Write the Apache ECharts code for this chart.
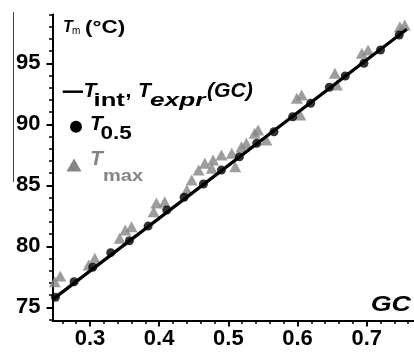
<!DOCTYPE html>
<html>
<head>
<meta charset="utf-8">
<script src="https://cdn.jsdelivr.net/npm/echarts@6/dist/echarts.min.js"></script>
<style>
html,body{margin:0;padding:0;background:#fff;}
#chart{width:414px;height:355px;}
</style>
</head>
<body>
<div id="chart"></div>
<script>
// ---- data ----
const gcHalf = [0.250,0.277,0.304,0.330,0.357,0.384,0.411,0.436,0.464,0.490,0.516,0.541,0.566,0.593,0.619,0.646,0.669,0.696,0.720,0.747];
const tHalf  = [75.82,77.10,78.28,79.48,80.46,81.66,82.98,84.02,85.11,86.25,87.34,88.44,89.39,90.62,91.72,93.04,93.96,95.00,96.09,97.32];

const gcMax = [0.249,0.257,0.298,0.307,0.343,0.351,0.360,0.392,0.396,0.408,0.440,0.447,0.457,0.466,0.476,0.478,0.490,0.505,0.510,0.519,0.526,0.538,0.543,0.555,0.599,0.606,0.604,0.654,0.657,0.693,0.702,0.748,0.755];
const tMax  = [77.10,77.57,78.47,79.02,80.66,81.34,81.61,82.84,83.55,83.66,84.61,85.43,86.25,86.80,86.39,87.07,87.48,87.62,86.52,88.16,88.44,89.26,89.53,88.71,92.13,92.40,90.76,94.18,93.22,95.82,96.09,98.00,98.14];

const gcFit = [0.2458, 0.758];
const tFit  = [75.63, 97.79];

const xMajor = [0.3,0.4,0.5,0.6,0.7];
const xMinor = [0.26,0.28,0.32,0.34,0.36,0.38,0.42,0.44,0.46,0.48,0.52,0.54,0.56,0.58,0.62,0.64,0.66,0.68,0.72,0.74,0.76];
const yMajor = [75,80,85,90,95];
const yMinor = [74,76,77,78,79,81,82,83,84,86,87,88,89,91,92,93,94,96,97,98,99];

// ---- chart ----
const FONT = '"Liberation Sans", Arial, Helvetica, sans-serif';
const BLACK = '#000';
const GRAY = '#858585';
const xMin = 0.2458, xMax = 0.7684, yMin = 73.92, yMax = 99;

function zip(a, b) { return a.map((v, i) => [v, b[i]]); }

const chart = echarts.init(document.getElementById('chart'), null, {renderer: 'canvas'});

function txt(x, y, text, size, opts) {
  opts = opts || {};
  return {
    type: 'text', z: 100,
    scaleX: opts.sx || 1, x: x, y: y,
    style: {
      x: 0, y: 0, text: text,
      font: (opts.italic ? 'italic ' : '') + (opts.weight || 'bold') + ' ' + size + 'px ' + FONT,
      fill: opts.color || BLACK,
      align: opts.align || 'left',
      verticalAlign: 'middle'
    }
  };
}

const option = {
  animation: false,
  backgroundColor: '#fff',
  grid: {left: 52.5, right: 0, top: 14.5, bottom: 34.5, containLabel: false},
  xAxis: [{
    type: 'value', min: xMin, max: xMax, position: 'bottom',
    axisLine: {show: true, onZero: false, lineStyle: {color: BLACK, width: 2}},
    axisTick: {show: true, customValues: xMajor, length: 6, inside: false, lineStyle: {color: BLACK, width: 2}},
    axisLabel: {customValues: xMajor, formatter: v => v.toFixed(1), fontFamily: FONT, fontWeight: 'bold', fontSize: 22, color: BLACK, margin: 7},
    splitLine: {show: false}
  }, {
    type: 'value', min: xMin, max: xMax, position: 'bottom',
    axisLine: {show: false},
    axisTick: {show: true, customValues: xMinor, length: 3.5, inside: false, lineStyle: {color: BLACK, width: 1.5}},
    axisLabel: {show: false},
    splitLine: {show: false}
  }],
  yAxis: [{
    type: 'value', min: yMin, max: yMax, position: 'left',
    axisLine: {show: true, onZero: false, lineStyle: {color: BLACK, width: 2}},
    axisTick: {show: true, customValues: yMajor, length: 6, inside: false, lineStyle: {color: BLACK, width: 2}},
    axisLabel: {customValues: yMajor, fontFamily: FONT, fontWeight: 'bold', fontSize: 22, color: BLACK, margin: 12},
    splitLine: {show: false}
  }, {
    type: 'value', min: yMin, max: yMax, position: 'left',
    axisLine: {show: false},
    axisTick: {show: true, customValues: yMinor, length: 3.5, inside: false, lineStyle: {color: BLACK, width: 1.5}},
    axisLabel: {show: false},
    splitLine: {show: false}
  }],
  series: [{
    name: 'Tmax', type: 'scatter', xAxisIndex: 0, yAxisIndex: 0, z: 2,
    symbol: 'triangle', symbolSize: [12, 11],
    itemStyle: {color: GRAY},
    data: zip(gcMax, tMax)
  }, {
    name: 'Tint', type: 'line', xAxisIndex: 0, yAxisIndex: 0, z: 3,
    symbol: 'none', lineStyle: {color: BLACK, width: 3.2},
    data: zip(gcFit, tFit)
  }, {
    name: 'T0.5', type: 'scatter', xAxisIndex: 0, yAxisIndex: 0, z: 4,
    symbol: 'circle', symbolSize: 9,
    itemStyle: {color: BLACK},
    data: zip(gcHalf, tHalf)
  }],
  graphic: [
    // stray panel border at far left
    {type: 'line', z: 100, shape: {x1: 13.5, y1: 12, x2: 13.5, y2: 182}, style: {stroke: '#444', lineWidth: 1}},
    // axis title
    txt(63, 27.5, 'T', 16, {italic: true}),
    txt(72, 31, 'm', 10, {weight: 'normal'}),
    txt(85, 28, '(°C)', 18, {sx: 1.25}),
    // legend line 1
    {type: 'line', z: 100, shape: {x1: 62.7, y1: 91.7, x2: 83, y2: 91.7}, style: {stroke: BLACK, lineWidth: 2.5}},
    txt(83.5, 90.8, 'T', 21, {italic: true}),
    txt(93.5, 100.5, 'int', 19, {sx: 1.35}),
    txt(125.5, 90.8, ',', 21),
    txt(138, 90.8, 'T', 21, {italic: true}),
    txt(150, 100.5, 'expr', 19, {italic: true, sx: 1.38}),
    txt(207, 91.5, '(GC)', 20, {italic: true, sx: 1.06}),
    // legend line 2
    {type: 'circle', z: 100, shape: {cx: 76, cy: 126.7, r: 6}, style: {fill: BLACK}},
    txt(90, 124.2, 'T', 21, {italic: true}),
    txt(100.5, 134, '0.5', 18, {sx: 1.25}),
    // legend line 3
    {type: 'polygon', z: 100, shape: {points: [[66.5, 171.5], [81.5, 171.5], [74, 158.5]]}, style: {fill: GRAY}},
    txt(90, 158.9, 'T', 21, {italic: true, color: GRAY}),
    txt(103, 176, 'max', 17, {color: GRAY, sx: 1.18}),
    // x axis name
    txt(411, 305, 'GC', 22, {italic: true, align: 'right', sx: 1.22})
  ]
};
chart.setOption(option);
</script>
</body>
</html>
